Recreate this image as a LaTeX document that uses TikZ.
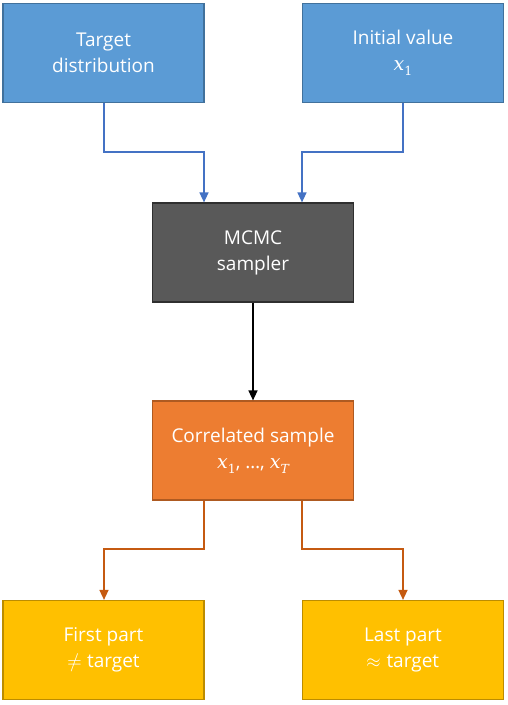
\documentclass[tikz,border=0pt]{standalone}
\usepackage{fontspec}
\usepackage{unicode-math}
\setmainfont{Open Sans}
\setmathfont{Latin Modern Math}
\newfontfamily\mfont{DejaVu Serif}
\newcommand{\mxs}[1]{{\mfont\itshape x}\raisebox{-0.28em}{\mfont\fontsize{12.5}{12.5}\selectfont #1}}
\usetikzlibrary{arrows.meta}
\definecolor{bfill}{HTML}{5B9BD5}
\definecolor{bline}{HTML}{41719C}
\definecolor{barrow}{HTML}{4472C4}
\definecolor{gfill}{HTML}{595959}
\definecolor{gline}{HTML}{2F2F2F}
\definecolor{ofill}{HTML}{ED7D31}
\definecolor{oline}{HTML}{AE5A21}
\definecolor{oarrow}{HTML}{C55A11}
\definecolor{yfill}{HTML}{FFC000}
\definecolor{yline}{HTML}{BC8C00}
\tikzset{
  box/.style={rectangle, minimum width=201pt, minimum height=99pt, line width=1.2pt,
    text=white, align=center, inner sep=0pt,
    font=\fontsize{19}{26}\selectfont},
  bluebox/.style={box, fill=bfill, draw=bline},
  graybox/.style={box, fill=gfill, draw=gline},
  orangebox/.style={box, fill=ofill, draw=oline},
  yellowbox/.style={box, fill=yfill, draw=yline},
  conn/.style={line width=1.5pt, -{Triangle[length=10pt,width=9pt]}},
}
\begin{document}
\begin{tikzpicture}[x=1pt,y=-1pt]
\useasboundingbox (0,0) rectangle (508,705);
\node[bluebox] (target) at (103.5,53) {Target\\distribution};
\node[bluebox] (init) at (403,53) {Initial value\\\mxs{1}};
\node[graybox] (mcmc) at (253,252.5) {MCMC\\sampler};
\node[orangebox] (corr) at (253,450.5) {Correlated sample\\\mxs{1}, \ldots, \mxs{\itshape T}};
\node[yellowbox] (first) at (103.5,650) {First part\\$\neq$ target};
\node[yellowbox] (last) at (403,650) {Last part\\$\approx$ target};
\coordinate (t1) at (104,152);
\coordinate (t2) at (204,152);
\coordinate (i1) at (403,152);
\coordinate (i2) at (302,152);
\coordinate (c1) at (204,549);
\coordinate (c2) at (104,549);
\coordinate (c3) at (302,549);
\coordinate (c4) at (403,549);
\draw[conn, barrow] (target.south -| t1) -- (t1) -- (t2) -- (t2 |- mcmc.north);
\draw[conn, barrow] (init.south -| i1) -- (i1) -- (i2) -- (i2 |- mcmc.north);
\draw[conn, black] (mcmc.south) -- (corr.north);
\draw[conn, oarrow] (corr.south -| c1) -- (c1) -- (c2) -- (c2 |- first.north);
\draw[conn, oarrow] (corr.south -| c3) -- (c3) -- (c4) -- (c4 |- last.north);
\end{tikzpicture}
\end{document}
